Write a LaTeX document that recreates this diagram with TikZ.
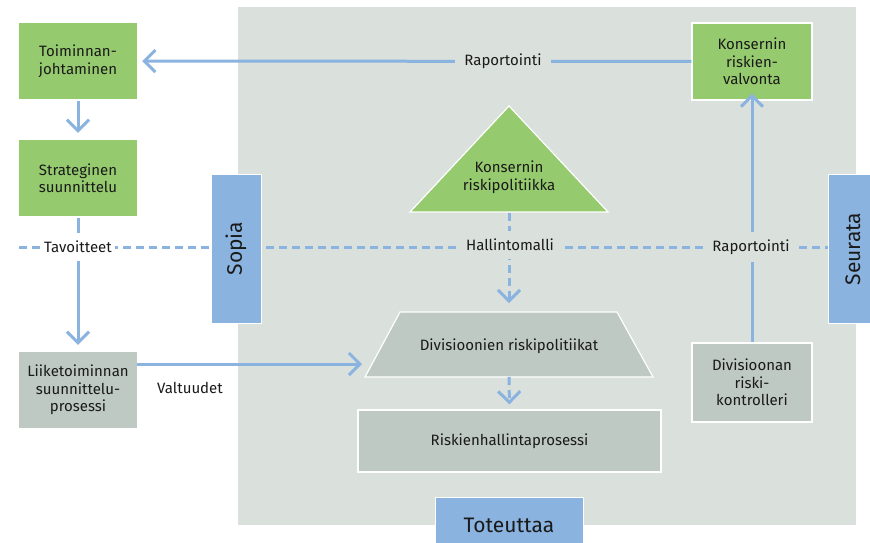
\documentclass[tikz,border=0pt]{standalone}
\usepackage{fontspec}
\setmainfont{Fira Sans}
\usetikzlibrary{arrows.meta}
\definecolor{bggray}{HTML}{DAE0DC}
\definecolor{boxgray}{HTML}{BFC9C3}
\definecolor{grn}{HTML}{96CA6E}
\definecolor{blu}{HTML}{8AB3DF}
\definecolor{txt}{HTML}{1A1A1A}
\tikzset{
  base/.style={align=center, inner sep=0pt, text=txt, font=\fontsize{15}{17.5}\selectfont},
  gbox/.style={base, fill=grn, minimum width=118pt, minimum height=76pt},
  graybox/.style={base, fill=boxgray, minimum width=118pt, minimum height=76pt},
  bluebox/.style={base, fill=blu, draw=white, line width=1pt, font=\fontsize{21}{24}\selectfont},
  wline/.style={draw=white, line width=1.2pt},
  conn/.style={draw=blu, line width=3pt},
  arr/.style={conn, -{Straight Barb[length=11pt,width=22pt]}},
  dsh/.style={conn, dash pattern=on 8pt off 5pt},
  lbl/.style={base, inner xsep=3pt, inner ysep=8pt}
}
\begin{document}
\begin{tikzpicture}[x=1pt,y=-1pt]
\useasboundingbox (0,0) rectangle (870,542);
\fill[bggray] (238,7) rectangle (856,525);

% dashed horizontal band
\coordinate (dl) at (19,247);
\coordinate (dr) at (828,247);
\draw[dsh] (dl) -- (dr);

% left column
\node[gbox] (tj) at (78,61) {Toiminnan-\\johtaminen};
\node[gbox] (ss) at (78,178) {Strateginen\\suunnittelu};
\node[graybox] (lsp) at (78,390) {Liiketoiminnan\\suunnittelu-\\prosessi};

% right column
\node[gbox, wline, minimum width=120pt, minimum height=77pt] (krv) at (752,61.5) {Konsernin\\riskien-\\valvonta};
\node[graybox, wline, minimum width=120pt, minimum height=79pt] (drk) at (752,382.5) {Divisioonan\\riski-\\kontrolleri};

% triangle
\filldraw[fill=grn, wline] (509,106) -- (608,212) -- (410,212) -- cycle;
\node[base] (krp) at (509,177) {Konsernin\\riskipolitiikka};
\coordinate (tribase) at (509,213);

% trapezoid
\filldraw[fill=boxgray, wline] (400,312) -- (617,312) -- (653,377) -- (365,377) -- cycle;
\node[base] (drp) at (509,346) {Divisioonien riskipolitiikat};
\coordinate (trtop) at (509,312);
\coordinate (trbot) at (509,377);
\coordinate (trleft) at (362,364);

% process box
\node[graybox, wline, minimum width=303pt, minimum height=62pt] (rhp) at (509.5,441) {Riskienhallintaprosessi};

% connectors
\draw[arr, shorten <=2pt, shorten >=7pt] (tj) -- (ss);
\draw[arr, shorten <=2pt, shorten >=7pt] (ss) -- (lsp);
\draw[arr, shorten <=0pt, shorten >=5pt] (krv) -- (tj);
\draw[arr] (drk.north) -- ([yshift=7pt]krv.south);
\draw[dsh, -{Straight Barb[length=11pt,width=22pt]}, shorten >=9pt] (tribase) -- (trtop);
\draw[dsh, -{Straight Barb[length=11pt,width=22pt]}, shorten >=5pt] (trbot) -- (rhp.north);
\draw[arr] (lsp.east |- trleft) -- (trleft);

% labels on lines
\node[lbl, fill=white] (tav) at (78,247) {Tavoitteet};
\node[lbl, fill=bggray, inner xsep=7pt] (hm) at (510,245) {Hallintomalli};
\node[lbl, fill=bggray, inner xsep=4pt] (rap2) at (751,247) {Raportointi};
\node[lbl, fill=bggray, inner xsep=9pt] (rap1) at (503,61) {Raportointi};
\node[base] (valt) at (190,388) {Valtuudet};

% side boxes
\node[bluebox, rotate=90, minimum width=149pt, minimum height=50pt] (sopia) at (236,248.5) {Sopia};
\node[bluebox, rotate=90, minimum width=149pt, minimum height=50pt] (seurata) at (853,249) {Seurata};
\node[bluebox, minimum width=148pt, minimum height=56pt, text depth=0pt, font=\fontsize{21}{24}\selectfont] (tot) at (509,525) {Toteuttaa};
\end{tikzpicture}
\end{document}
